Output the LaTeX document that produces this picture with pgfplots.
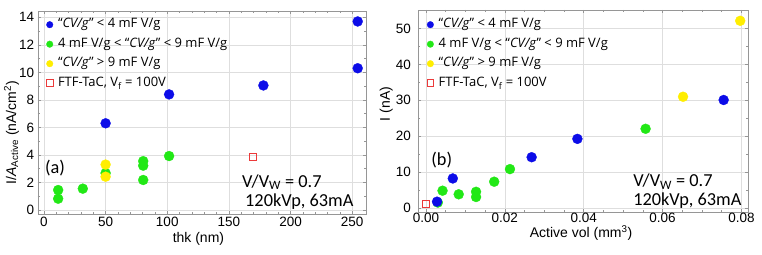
\documentclass[border=0pt]{standalone}
\usepackage{fontspec}
\setmainfont{Carlito}
\newfontfamily\arialfont{Liberation Sans}
\newfontfamily\legendfont{Open Sans}
\usepackage{pgfplots}
\pgfplotsset{compat=1.18}

\definecolor{cblue}{RGB}{12,12,232}
\definecolor{cgreen}{RGB}{34,232,22}
\definecolor{cyellow}{RGB}{255,238,0}
\definecolor{cred}{RGB}{236,58,58}
\definecolor{framegray}{RGB}{150,150,150}
\definecolor{gridgray}{RGB}{222,222,222}

\tikzset{
  dot/.style={only marks, mark=*, mark size=5bp, color=#1,
    mark options={draw=#1, fill=#1, line width=0.3pt}},
  sq/.style={only marks, mark=square, mark size=3.3bp, color=cred,
    mark options={draw=cred, line width=0.9pt}},
  annot/.style={font=\fontsize{18.3bp}{20bp}\selectfont, inner sep=0pt},
}

\newcommand{\legfont}{\legendfont\fontsize{13bp}{15bp}\selectfont}

\pgfplotsset{
  panel/.style={
    scale only axis,
    axis line style={framegray},
    tick style={framegray, line width=0.5pt},
    major tick length=3bp, minor tick length=1.8bp,
    tick align=inside,
    grid=major, grid style={gridgray, line width=0.5pt},
    /pgf/number format/assume math mode=true,
    ticklabel style={font=\arialfont\fontsize{13.5bp}{15bp}\selectfont},
    label style={font=\arialfont\fontsize{14bp}{16bp}\selectfont},
    legend cell align=left,
    legend style={draw=none, fill=none, inner sep=0pt, row sep=7.5bp,
      font=\legfont,
      nodes={inner ysep=0bp, text height=9bp, text depth=3bp},
      /tikz/every odd column/.append style={column sep=3bp}},
    legend image code/.code={\draw[##1, mark size=3.3bp] plot coordinates {(0bp,0bp)};},
  },
}

\newcommand{\cvg}{“\textit{CV/g}”}

\begin{document}
\begin{tikzpicture}
\useasboundingbox (0,0) rectangle (762bp,255bp);

% (a) current density versus thickness
\begin{axis}[panel,
  at={(37.7bp,41.3bp)}, anchor=south west,
  width=328bp, height=202.7bp,
  xmin=-5.1, xmax=261, ymin=-0.27, ymax=14.46,
  xtick={0,50,...,250}, ytick={0,2,...,14},
  minor x tick num=4, minor y tick num=1,
  xlabel={thk (nm)},
  ylabel={I/\textit{A}\textsubscript{Active} (nA/cm\textsuperscript{2})},
  xlabel style={at={(axis description cs:0.49,-0.143)}, anchor=base, inner sep=0pt},
  ylabel style={at={(axis description cs:-0.066,0.40)}, anchor=base, rotate=0, inner sep=0pt},
  legend style={at={(axis description cs:0.026,0.963)}, anchor=north west},
]
\addlegendimage{dot=cblue}
\addlegendentry{\cvg{} < 4 mF V/g}
\addlegendimage{dot=cgreen}
\addlegendentry{4 mF V/g < \cvg{} < 9 mF V/g}
\addlegendimage{dot=cyellow}
\addlegendentry{\cvg{} > 9 mF V/g}
\addlegendimage{sq}
\addlegendentry{FTF-TaC, V\textsubscript{f} = 100V}

\addplot[dot=cgreen, forget plot] coordinates {
  (11.5,1.45) (11.5,0.82) (31.5,1.55) (50,2.68)
  (80.5,3.55) (80.5,3.22) (80.5,2.18) (101.5,3.92)};
\addplot[dot=cyellow, forget plot] coordinates {(50,3.30) (50,2.42)};
\addplot[dot=cblue, forget plot] coordinates {
  (50,6.30) (101.5,8.40) (178,9.05) (254.5,13.70) (254.5,10.30)};
\addplot[sq, forget plot] coordinates {(169.5,3.87)};

\node[annot, anchor=west] at (axis description cs:0.022,0.225) {(a)};
\node[annot, anchor=base west, text depth=0pt] at (axis description cs:0.623,0.131) {V/V\textsubscript{W} = 0.7};
\node[annot, anchor=base west] at (axis description cs:0.632,0.036) {120kVp, 63mA};
\end{axis}

% (b) current versus active volume
\begin{axis}[panel,
  at={(418.3bp,42.7bp)}, anchor=south west,
  width=329.4bp, height=202.3bp,
  xmin=-0.00195, xmax=0.0816, ymin=-1.1, ymax=55.1,
  xtick={0,0.02,...,0.08}, ytick={0,10,...,50},
  xticklabel style={yshift=2.5bp, text depth=0pt, /pgf/number format/.cd, fixed, fixed zerofill, precision=2},
  yticklabel style={xshift=-4bp},
  minor x tick num=3, minor y tick num=1,
  scaled x ticks=false,
  xlabel={Active vol (mm\textsuperscript{3})},
  ylabel={I (nA)},
  xlabel style={at={(axis description cs:0.494,-0.125)}, anchor=base, inner sep=0pt},
  ylabel style={at={(axis description cs:-0.086,0.535)}, anchor=base, rotate=0, inner sep=0pt},
  legend style={at={(axis description cs:0.026,0.958)}, anchor=north west},
]
\addlegendimage{dot=cblue}
\addlegendentry{\cvg{} < 4 mF V/g}
\addlegendimage{dot=cgreen}
\addlegendentry{4 mF V/g < \cvg{} < 9 mF V/g}
\addlegendimage{dot=cyellow}
\addlegendentry{\cvg{} > 9 mF V/g}
\addlegendimage{sq}
\addlegendentry{FTF-TaC, V\textsubscript{f} = 100V}

\addplot[dot=cgreen, forget plot] coordinates {
  (0.0030,1.6) (0.0042,4.9) (0.0083,3.9) (0.0127,4.6)
  (0.0127,3.15) (0.0173,7.4) (0.0213,10.9) (0.0557,22.1)};
\addplot[dot=cyellow, forget plot] coordinates {(0.0652,31.0) (0.0797,52.1)};
\addplot[dot=cblue, forget plot] coordinates {
  (0.0028,1.85) (0.0068,8.3) (0.0268,14.2) (0.0384,19.3) (0.0755,30.1)};
\addplot[sq, forget plot] coordinates {(0.0,1.2)};

\node[annot, anchor=west] at (axis description cs:0.039,0.259) {(b)};
\node[annot, anchor=base west, text depth=0pt] at (axis description cs:0.652,0.126) {V/V\textsubscript{W} = 0.7};
\node[annot, anchor=base west] at (axis description cs:0.652,0.036) {120kVp, 63mA};
\end{axis}
\end{tikzpicture}
\end{document}
